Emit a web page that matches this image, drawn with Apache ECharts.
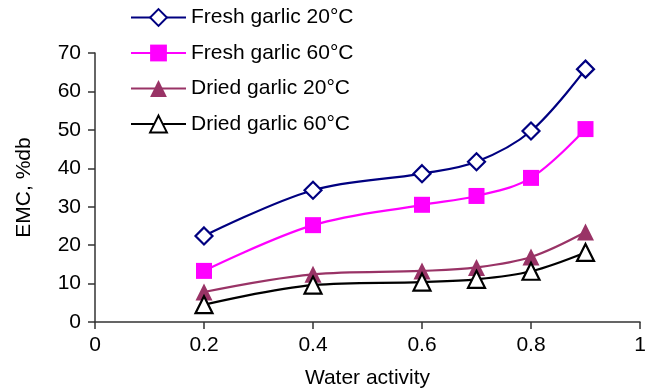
<!DOCTYPE html>
<html>
<head>
<meta charset="utf-8">
<script src="https://cdn.jsdelivr.net/npm/echarts@6/dist/echarts.min.js"></script>
<style>
html, body { margin: 0; padding: 0; background: #fff; }
#chart { width: 656px; height: 392px; }
</style>
</head>
<body>
<div id="chart"></div>
<script>
// Water activity levels at which EMC was measured
const waterActivity = [0.2, 0.4, 0.6, 0.7, 0.8, 0.9];
// Equilibrium moisture content, % dry basis
const freshGarlic20 = [22.4, 34.3, 38.6, 41.7, 49.7, 65.8];
const freshGarlic60 = [13.3, 25.2, 30.5, 32.8, 37.5, 50.2];
const driedGarlic20 = [7.8, 12.4, 13.3, 14.2, 16.9, 23.4];
const driedGarlic60 = [4.5, 9.6, 10.4, 11.1, 13.2, 18.1];
const xTicks = [0, 0.2, 0.4, 0.6, 0.8, 1];
const yTicks = [0, 10, 20, 30, 40, 50, 60, 70];

const font = '"Liberation Sans", Arial, sans-serif';
const pairs = vals => waterActivity.map((x, i) => [x, vals[i]]);

function series(name, vals, color, symbol, size, filled) {
  return {
    name: name,
    type: 'line',
    data: pairs(vals),
    smooth: 0.35,
    symbol: symbol,
    symbolSize: size,
    showSymbol: true,
    lineStyle: { color: color, width: 2.2 },
    itemStyle: filled
      ? { color: color, borderWidth: 0 }
      : { color: '#fff', borderColor: color, borderWidth: 2.2 },
    emphasis: { disabled: true },
    z: 2
  };
}

const chart = echarts.init(document.getElementById('chart'), null, { renderer: 'canvas' });
chart.setOption({
  animation: false,
  backgroundColor: '#fff',
  grid: { left: 95, right: 16, top: 53, bottom: 70, outerBoundsMode: 'none', containLabel: false },
  legend: {
    orient: 'vertical',
    left: 125,
    top: 2,
    itemWidth: 55,
    itemHeight: 21,
    itemGap: 14.5,
    textStyle: { fontFamily: font, fontSize: 21, color: '#000' },
    data: ['Fresh garlic 20°C', 'Fresh garlic 60°C', 'Dried garlic 20°C', 'Dried garlic 60°C']
  },
  xAxis: {
    type: 'value',
    min: 0, max: 1, interval: 0.2,
    name: 'Water activity',
    nameLocation: 'middle',
    nameGap: 46,
    nameTextStyle: { fontFamily: font, fontSize: 21, color: '#000' },
    axisLine: { lineStyle: { color: '#333', width: 1.5 } },
    axisTick: { show: true, length: 7, lineStyle: { color: '#333', width: 1.5 } },
    axisLabel: { fontFamily: font, fontSize: 21, color: '#000', margin: 13,
      formatter: v => xTicks.includes(+v.toFixed(1)) ? String(+v.toFixed(1)) : '' },
    splitLine: { show: false }
  },
  yAxis: {
    type: 'value',
    min: 0, max: 70, interval: 10,
    name: 'EMC, %db',
    nameLocation: 'middle',
    nameGap: 60,
    nameTextStyle: { fontFamily: font, fontSize: 21, color: '#000' },
    axisLine: { show: true, lineStyle: { color: '#333', width: 1.5 } },
    axisTick: { show: true, length: 7, lineStyle: { color: '#333', width: 1.5 } },
    axisLabel: { fontFamily: font, fontSize: 21, color: '#000', margin: 14,
      formatter: v => yTicks.includes(v) ? String(v) : '' },
    splitLine: { show: false }
  },
  series: [
    series('Fresh garlic 20°C', freshGarlic20, '#000080', 'diamond', 17, false),
    series('Fresh garlic 60°C', freshGarlic60, '#ff00ff', 'rect', 16, true),
    series('Dried garlic 20°C', driedGarlic20, '#993366', 'triangle', 17, true),
    series('Dried garlic 60°C', driedGarlic60, '#000000', 'triangle', 17, false)
  ]
});
</script>
</body>
</html>
